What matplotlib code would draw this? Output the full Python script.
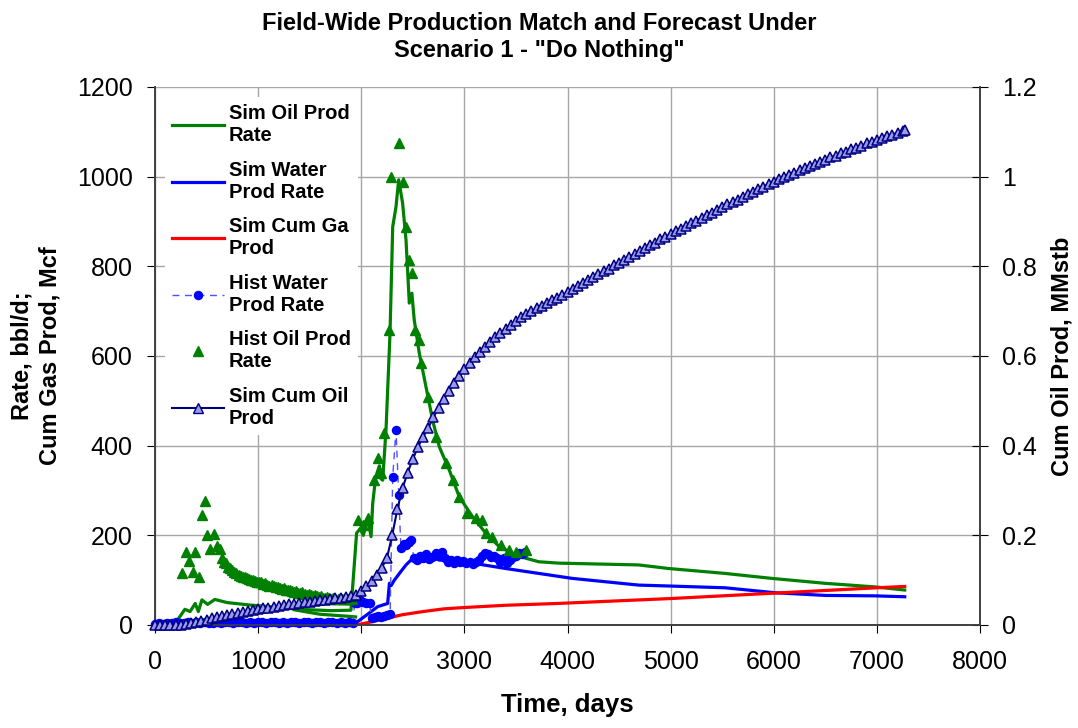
import matplotlib
matplotlib.use("Agg")
import matplotlib.pyplot as plt
from matplotlib.lines import Line2D
from matplotlib.ticker import FuncFormatter

plt.rcParams['font.family'] = ['Liberation Sans', 'DejaVu Sans']

# Sim oil prod rate, bbl/d
sim_oil_t = [0, 200, 230, 290, 340, 390, 420, 455, 510, 580, 700, 900, 1100, 1300,
             1500, 1700, 1900, 1955, 1990, 2020, 2063, 2095, 2111, 2140, 2176, 2192,
             2208, 2240, 2279, 2305, 2337, 2363, 2401, 2434, 2466, 2491, 2514, 2563,
             2627, 2692, 2756, 2853, 2950, 3078, 3207, 3337, 3465, 3594, 3723, 3917,
             4300, 4690, 4981, 5529, 5980, 6496, 6980, 7270]
sim_oil_q = [0, 0, 15, 35, 30, 48, 30, 56, 46, 57, 50, 45, 41, 37,
             34, 32, 33, 205, 215, 200, 238, 197, 271, 330, 355, 326,
             323, 435, 651, 888, 933, 993, 941, 859, 718, 740, 680, 606,
             532, 457, 398, 346, 286, 242, 205, 175, 160, 149, 141, 138,
             136, 134, 126, 115, 104, 93, 85, 78]
# second (restart) trace of the sim oil curve
sim_oil_b_t = [1350, 1600, 1900, 1945]
sim_oil_b_q = [34, 24, 19, 18]

# Sim water prod rate, bbl/d
sim_wat_t = [0, 500, 1000, 1500, 1950, 2050, 2160, 2256, 2273, 2290, 2321, 2380,
             2434, 2514, 2611, 2756, 3078, 3401, 3723, 4045, 4690, 4981, 5529,
             6010, 6496, 6980, 7270]
sim_wat_q = [3, 4, 4, 5, 5, 22, 41, 48, 93, 88, 100, 118,
             134, 152, 156, 145, 138, 126, 115, 104, 89, 87, 83,
             72, 66, 65, 63]

# Sim cum gas prod, Mcf
sim_gas_t = [1950, 2100, 2250, 2400, 2600, 2800, 3000, 3400, 3900, 4500, 5000,
             5500, 6000, 6500, 7000, 7270]
sim_gas_v = [0, 7, 15, 23, 30, 36, 39, 44, 48, 54, 59, 65, 71, 77, 83, 86]

# Hist water prod rate, bbl/d
hist_wat_t = [0, 40, 80, 120, 160, 200, 240, 280, 320, 360, 400, 440, 480, 520,
              560, 600, 640, 680, 720, 760, 800, 840, 880, 920, 960, 1000, 1040,
              1080, 1120, 1160, 1200, 1240, 1280, 1320, 1360, 1400, 1440, 1480,
              1520, 1560, 1600, 1640, 1680, 1720, 1760, 1800, 1840, 1880, 1920,
              1935, 1960, 1990, 2020, 2050, 2080, 2100, 2130, 2160, 2190, 2220,
              2250, 2280, 2305, 2337, 2363, 2385, 2410, 2434, 2460, 2482, 2510,
              2540, 2570, 2600, 2630, 2660, 2690, 2720, 2750, 2780, 2810, 2840,
              2870, 2900, 2930, 2960, 2990, 3020, 3050, 3080, 3110, 3140, 3170,
              3200, 3230, 3260, 3290, 3320, 3350, 3380, 3410, 3440, 3470, 3500,
              3530, 3560, 3590]
hist_wat_q = [3, 4, 3, 5, 4, 6, 5, 4, 6, 5, 7, 5, 6, 4,
              5, 6, 5, 7, 6, 5, 6, 7, 5, 6, 5, 7, 6,
              5, 6, 7, 5, 6, 5, 6, 7, 5, 6, 6,
              5, 7, 6, 5, 6, 7, 5, 6, 5, 6, 5,
              48, 50, 55, 52, 50, 48, 15, 18, 20, 18, 20,
              22, 25, 331, 435, 290, 171, 180, 178, 185, 190, 150,
              145, 155, 150, 158, 148, 152, 160, 155, 163, 150, 140,
              145, 138, 145, 140, 142, 138, 140, 135, 140, 145, 155,
              160, 158, 152, 155, 150, 140, 150, 138, 145, 152, 155,
              160, 158, 162]

# Hist oil prod rate, bbl/d
hist_oil_t = [258, 300, 331, 366, 392, 426, 451, 483, 506, 537, 570, 602, 628,
              650, 670, 690, 710, 730, 750, 770, 790, 810, 830, 850, 870, 890,
              910, 930, 950, 970, 990, 1010, 1030, 1050, 1070, 1090, 1110, 1130,
              1150, 1170, 1190, 1210, 1230, 1250, 1270, 1290, 1310, 1330, 1350,
              1370, 1390, 1410, 1430, 1450, 1470, 1490, 1510, 1530, 1550, 1570,
              1590, 1610, 1630, 1650, 1670, 1690, 1710, 1730, 1750, 1770, 1790,
              1810, 1830, 1850, 1870, 1890, 1910,
              1966, 2014, 2063, 2128, 2160, 2192, 2224, 2273, 2289, 2370, 2401,
              2434, 2466, 2491, 2524, 2556, 2579, 2643, 2724, 2821, 2885, 2950,
              3030, 3110, 3175, 3207, 3272, 3352, 3433, 3497, 3594]
hist_oil_q = [115, 162, 143, 119, 162, 106, 245, 277, 201, 169, 203, 177, 169,
              150, 140, 138, 130, 128, 122, 118, 115, 112, 110, 108, 106, 104,
              103, 100, 100, 98, 96, 95, 97, 92, 93, 90, 88, 90,
              86, 84, 85, 82, 80, 82, 78, 77, 79, 75, 74,
              76, 72, 71, 73, 69, 68, 70, 66, 65, 67, 64,
              62, 64, 61, 60, 63, 60, 58, 60, 58, 57, 60,
              58, 57, 59, 57, 58, 57,
              234, 223, 238, 323, 372, 338, 428, 658, 1000, 1076, 989,
              888, 814, 786, 658, 636, 584, 509, 420, 361, 323, 286,
              249, 238, 234, 205, 197, 178, 167, 163, 167]

# Sim cum oil prod, MMstb
cum_t = [0, 50, 100, 150, 200, 250, 300, 350, 400, 450, 500, 550, 600, 650, 700,
         750, 800, 850, 900, 950, 1000, 1050, 1100, 1150, 1200, 1250, 1300, 1350,
         1400, 1450, 1500, 1550, 1600, 1650, 1700, 1750, 1800, 1850, 1900, 1950,
         2000, 2050, 2100, 2150, 2200, 2250, 2300, 2350, 2400, 2450, 2500, 2550,
         2600, 2650, 2700, 2750, 2800, 2850, 2900, 2950, 3000, 3050, 3100, 3150,
         3200, 3250, 3300, 3350, 3400, 3450, 3500, 3550, 3600, 3650, 3700, 3750,
         3800, 3850, 3900, 3950, 4000, 4050, 4100, 4150, 4200, 4250, 4300, 4350,
         4400, 4450, 4500, 4550, 4600, 4650, 4700, 4750, 4800, 4850, 4900, 4950,
         5000, 5050, 5100, 5150, 5200, 5250, 5300, 5350, 5400, 5450, 5500, 5550,
         5600, 5650, 5700, 5750, 5800, 5850, 5900, 5950, 6000, 6050, 6100, 6150,
         6200, 6250, 6300, 6350, 6400, 6450, 6500, 6550, 6600, 6650, 6700, 6750,
         6800, 6850, 6900, 6950, 7000, 7050, 7100, 7150, 7200, 7250, 7275]
cum_v = [0, 0, 0, 0, 0, 0.001, 0.003, 0.005, 0.007, 0.0095, 0.012, 0.0145, 0.017,
         0.0195, 0.022, 0.0245, 0.027, 0.029, 0.031, 0.033, 0.035, 0.037, 0.039,
         0.041, 0.043, 0.0445, 0.046, 0.0475, 0.049, 0.0505, 0.052, 0.0535, 0.055,
         0.0565, 0.058, 0.0595, 0.061, 0.0625, 0.064, 0.066,
         0.075, 0.086, 0.098, 0.112, 0.128, 0.150, 0.200, 0.258, 0.305, 0.340,
         0.370, 0.397, 0.420, 0.440, 0.463, 0.485, 0.505, 0.522, 0.540, 0.556,
         0.571, 0.585, 0.598, 0.610, 0.621, 0.632, 0.642, 0.652, 0.661, 0.670,
         0.678, 0.686, 0.693, 0.700, 0.706, 0.712, 0.718, 0.724, 0.730, 0.736,
         0.742, 0.749, 0.756, 0.762, 0.769, 0.776, 0.782, 0.789, 0.795, 0.802,
         0.808, 0.815, 0.821, 0.828, 0.834, 0.840, 0.847, 0.853, 0.860, 0.866,
         0.872, 0.878, 0.884, 0.890, 0.896, 0.902, 0.908, 0.914, 0.920, 0.926,
         0.932, 0.938, 0.944, 0.949, 0.955, 0.961, 0.966, 0.972, 0.978, 0.983,
         0.989, 0.994, 0.999, 1.004, 1.009, 1.014, 1.019, 1.024, 1.028, 1.033,
         1.038, 1.043, 1.047, 1.052, 1.056, 1.061, 1.065, 1.069, 1.074, 1.078,
         1.082, 1.086, 1.090, 1.094, 1.098, 1.102, 1.104]

GREEN = '#008000'
BLUE = '#0000ff'
RED = '#ff0000'
NAVY = '#000080'
CUM_FILL = '#9a9ae8'

fig = plt.figure(figsize=(10.78, 7.28), dpi=100)
ax = fig.add_axes([155 / 1078, 1 - 625 / 728, (980 - 155) / 1078, (625 - 87) / 728])
ax2 = ax.twinx()

ax.plot(sim_oil_t, sim_oil_q, color=GREEN, lw=2.3, zorder=3)
ax.plot(sim_oil_b_t, sim_oil_b_q, color=GREEN, lw=2.3, zorder=3)
ax.plot(sim_wat_t, sim_wat_q, color=BLUE, lw=2.3, zorder=3)
ax.plot(sim_gas_t, sim_gas_v, color=RED, lw=2.3, zorder=3)
ax.plot(hist_wat_t, hist_wat_q, color='#5050ff', lw=1.0, ls=(0, (5, 4)),
        marker='o', ms=5.8, mfc=BLUE, mec=BLUE, zorder=4, clip_on=False)
ax.plot(hist_oil_t, hist_oil_q, ls='none', marker='^', ms=6.5, mfc=GREEN, mec=GREEN,
        zorder=4)
ax2.plot(cum_t, cum_v, color=NAVY, lw=1.5, marker='^', ms=7.5, mfc=CUM_FILL,
         mec=NAVY, mew=1.1, clip_on=False, zorder=5)

ax.set_xlim(0, 8000)
ax.set_ylim(0, 1200)
ax2.set_ylim(0, 1.2)
ax.set_xticks(range(0, 8001, 1000))
ax.set_yticks(range(0, 1201, 200))
ax2.set_yticks([0, 0.2, 0.4, 0.6, 0.8, 1.0, 1.2])
ax2.yaxis.set_major_formatter(FuncFormatter(lambda v, p: f"{v:g}"))

ax.grid(True, color='#a6a6a6', lw=1.0)
ax.set_axisbelow(True)
for a in (ax, ax2):
    a.spines['top'].set_visible(False)
    for s in ('left', 'right', 'bottom'):
        a.spines[s].set_color('#404040')
        a.spines[s].set_linewidth(1.2)
ax.tick_params(axis='y', direction='out', length=6, labelsize=18, pad=10)
ax.tick_params(axis='x', direction='out', length=6, labelsize=18, pad=12)
ax2.tick_params(axis='y', direction='inout', length=12, labelsize=18, pad=10)

ax.set_xlabel('Time, days', fontsize=18.5, fontweight='bold', labelpad=14)
ax.set_ylabel('Rate, bbl/d;\nCum Gas Prod, Mcf', fontsize=17, fontweight='bold',
              labelpad=11, linespacing=1.3)
ax2.set_ylabel('Cum Oil Prod, MMstb', fontsize=17, fontweight='bold', labelpad=10)

fig.text(0.5, 1 - 12 / 728, 'Field-Wide Production Match and Forecast Under\nScenario 1 - "Do Nothing"',
         ha='center', va='top', fontsize=17, fontweight='bold', linespacing=1.2)

handles = [
    Line2D([], [], color=GREEN, lw=2.3),
    Line2D([], [], color=BLUE, lw=2.3),
    Line2D([], [], color=RED, lw=2.3),
    Line2D([], [], color='#5050ff', lw=1.0, ls=(0, (5, 4)), marker='o', ms=5.8,
           mfc=BLUE, mec=BLUE),
    Line2D([], [], ls='none', marker='^', ms=6.5, mfc=GREEN, mec=GREEN),
    Line2D([], [], color=NAVY, lw=1.5, marker='^', ms=7.5, mfc=CUM_FILL, mec=NAVY),
]
labels = ['Sim Oil Prod\nRate', 'Sim Water\nProd Rate', 'Sim Cum Ga\nProd',
          'Hist Water\nProd Rate', 'Hist Oil Prod\nRate', 'Sim Cum Oil\nProd']
leg = ax2.legend(handles, labels, loc='upper left', bbox_to_anchor=(0.0, 1.0),
                 frameon=True, fancybox=False, edgecolor='none',
                 facecolor='white', framealpha=1, handlelength=2.6, handletextpad=0.2,
                 labelspacing=0.77, borderpad=0.35,
                 prop={'weight': 'bold', 'size': 14.5})
leg.set_zorder(10)

fig.savefig('out.png', dpi=100)
